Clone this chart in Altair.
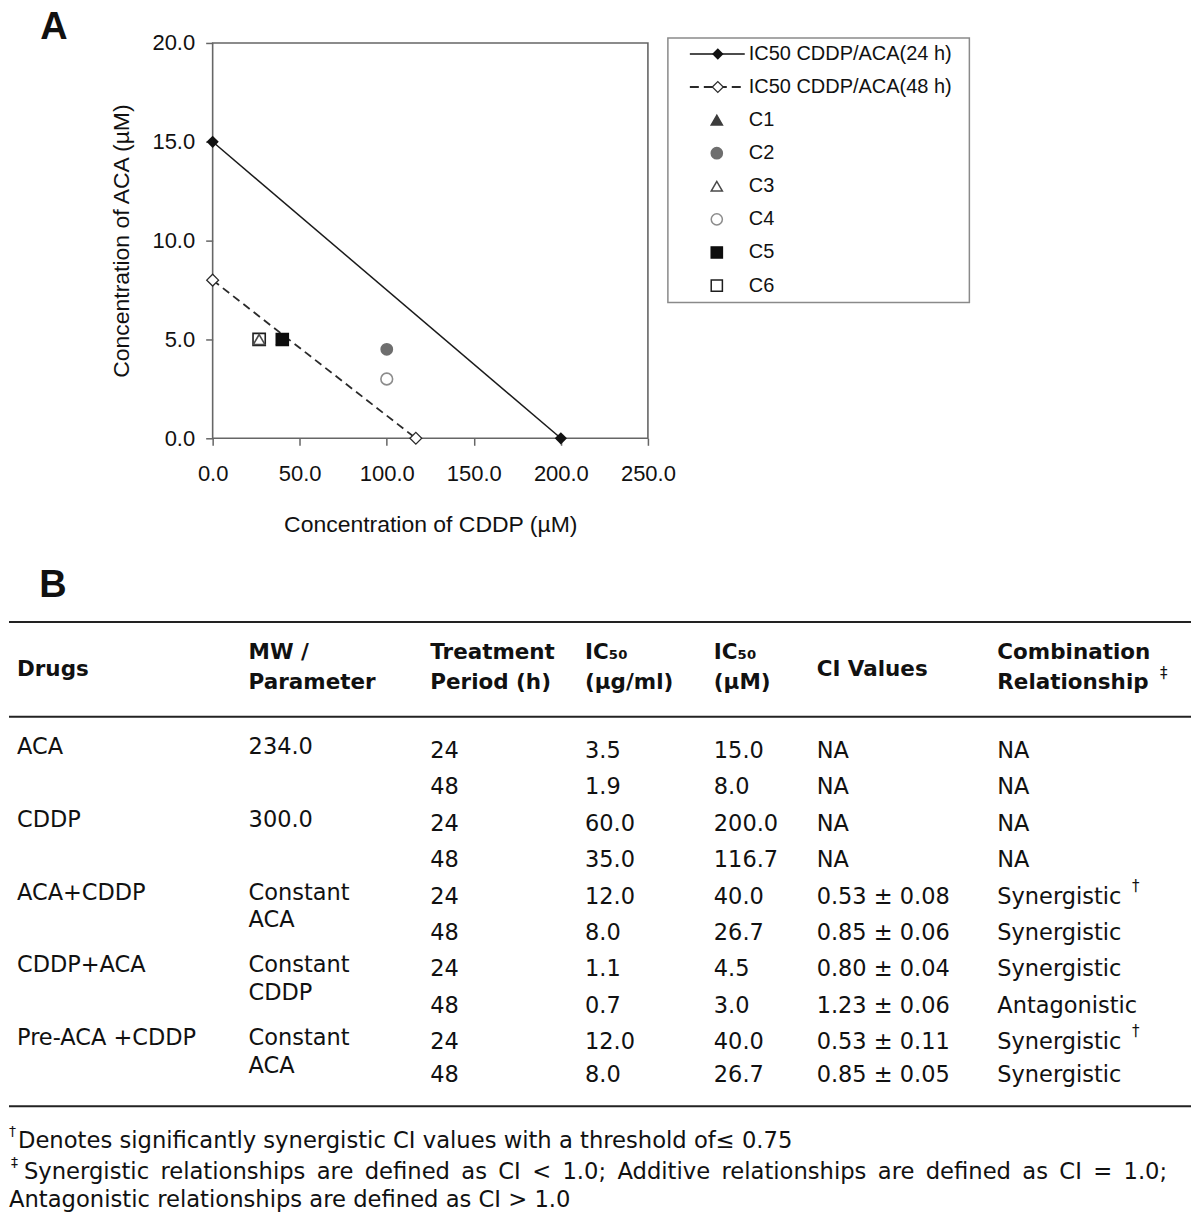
import altair as alt
import pandas as pd

# ---------------- Panel A values ----------------
ic50_24h_cddp = [0.0, 200.0]
ic50_24h_aca = [15.0, 0.0]
ic50_48h_cddp = [0.0, 116.7]
ic50_48h_aca = [8.0, 0.0]

combo_labels = ["C1", "C2", "C3", "C4", "C5", "C6"]
combo_cddp = [40.0, 100.0, 26.7, 100.0, 40.0, 26.7]
combo_aca = [5.0, 4.5, 5.0, 3.0, 5.0, 5.0]
combo_draw_order = ["C1", "C5", "C2", "C4", "C6", "C3"]

x_domain = [0, 250]
y_domain = [0, 20]
x_ticks = [0, 50, 100, 150, 200, 250]
y_ticks = [0, 5, 10, 15, 20]
x_title = "Concentration of CDDP (µM)"
y_title = "Concentration of ACA (µM)"

legend_labels = ["IC50 CDDP/ACA(24 h)", "IC50 CDDP/ACA(48 h)",
                 "C1", "C2", "C3", "C4", "C5", "C6"]

# ---------------- Panel B values ----------------
header_top = ["Drugs", "MW /", "Treatment", "IC₅₀", "IC₅₀", "CI Values", "Combination"]
header_bottom = ["", "Parameter", "Period (h)", "(µg/ml)", "(µM)", "", "Relationship"]

drug_rows = [0, 2, 4, 6, 8]
drug_names = ["ACA", "CDDP", "ACA+CDDP", "CDDP+ACA", "Pre-ACA +CDDP"]
drug_param = ["234.0", "300.0", "Constant\nACA", "Constant\nCDDP", "Constant\nACA"]

period_h = [24, 48, 24, 48, 24, 48, 24, 48, 24, 48]
ic50_ug_ml = [3.5, 1.9, 60.0, 35.0, 12.0, 8.0, 1.1, 0.7, 12.0, 8.0]
ic50_um = [15.0, 8.0, 200.0, 116.7, 40.0, 26.7, 4.5, 3.0, 40.0, 26.7]
ci_mean = [None, None, None, None, 0.53, 0.85, 0.80, 1.23, 0.53, 0.85]
ci_sd = [None, None, None, None, 0.08, 0.06, 0.04, 0.06, 0.11, 0.05]
relationship = ["NA", "NA", "NA", "NA", "Synergistic", "Synergistic",
                "Synergistic", "Antagonistic", "Synergistic", "Synergistic"]
significant = [False, False, False, False, True, False, False, False, True, False]

footnote_1 = "Denotes significantly synergistic CI values with a threshold of\u2264 0.75"
footnote_2 = ("Synergistic relationships are defined as CI < 1.0; "
              "Additive relationships are defined as CI = 1.0;")
footnote_3 = "Antagonistic relationships are defined as CI > 1.0"

# ---------------- Layout / style ----------------
W, H = 1184, 1199
PF = "Liberation Sans, Arial, sans-serif"
TF = "DejaVu Sans, sans-serif"
INK = "#111111"
GREY = "#666666"

combo_shapes = ["triangle-up", "circle", "triangle-up", "circle", "square", "square"]
combo_fill = ["#3c3c3c", "#6e6e6e", "#ffffff", "#ffffff", "#0d0d0d", "#ffffff"]
combo_stroke = ["#3c3c3c", "#6e6e6e", "#4a4a4a", "#8c8c8c", "#0d0d0d", "#1e1e1e"]
combo_size = [120, 150, 80, 150, 200, 190]

x_scale = alt.Scale(domain=x_domain, range=[204, 640], nice=False, zero=False)
y_scale = alt.Scale(domain=y_domain, range=[430, 34], nice=False, zero=False)

x_axis = alt.Axis(title=x_title, orient="bottom", offset=430 - H, values=x_ticks,
                  format=".1f", grid=False, domain=False, tickSize=7, tickWidth=1.5,
                  tickColor=GREY, labelFont=PF, labelFontSize=22, labelColor=INK,
                  labelPadding=18, labelFlush=False, labelOverlap=False,
                  titleFont=PF, titleFontSize=23, titleFontWeight="normal",
                  titleColor=INK, titlePadding=29)
y_axis = alt.Axis(title=y_title, orient="left", offset=-204, values=y_ticks,
                  format=".1f", grid=False, domain=False, tickSize=7, tickWidth=1.5,
                  tickColor=GREY, labelFont=PF, labelFontSize=22, labelColor=INK,
                  labelPadding=11, labelFlush=False, labelOverlap=False,
                  titleFont=PF, titleFontSize=23, titleFontWeight="normal",
                  titleColor=INK, titlePadding=18)


def px(field="cddp"):
    return alt.X(f"{field}:Q", scale=x_scale, axis=x_axis)


def py(field="aca"):
    return alt.Y(f"{field}:Q", scale=y_scale, axis=y_axis)


shape_enc = alt.Shape("label:N", scale=alt.Scale(domain=combo_labels, range=combo_shapes), legend=None)
fill_enc = alt.Fill("label:N", scale=alt.Scale(domain=combo_labels, range=combo_fill), legend=None)
stroke_enc = alt.Stroke("label:N", scale=alt.Scale(domain=combo_labels, range=combo_stroke), legend=None)

# ---- plot area ----
box_df = pd.DataFrame({"cddp": [x_domain[0]], "cddp_end": [x_domain[1]],
                       "aca": [y_domain[0]], "aca_end": [y_domain[1]]})
box = alt.Chart(box_df).mark_rect(fillOpacity=0, stroke=GREY, strokeWidth=1.6).encode(
    x=px(), x2=alt.X2("cddp_end:Q"), y=py(), y2=alt.Y2("aca_end:Q"))

df24 = pd.DataFrame({"cddp": ic50_24h_cddp, "aca": ic50_24h_aca})
df48 = pd.DataFrame({"cddp": ic50_48h_cddp, "aca": ic50_48h_aca})
line24 = alt.Chart(df24).mark_line(color="#1a1a1a", strokeWidth=1.5).encode(x=px(), y=py())
pts24 = alt.Chart(df24).mark_point(shape="diamond", filled=True, color=INK, size=150,
                                   opacity=1).encode(x=px(), y=py())
line48 = alt.Chart(df48).mark_line(color="#2a2a2a", strokeWidth=1.8,
                                   strokeDash=[8, 5]).encode(x=px(), y=py())
pts48 = alt.Chart(df48).mark_point(shape="diamond", fill="white", stroke="#2a2a2a",
                                   strokeWidth=1.3, size=140, opacity=1).encode(x=px(), y=py())

combo_df = pd.DataFrame({"label": combo_labels, "cddp": combo_cddp, "aca": combo_aca})
combo_df = combo_df.set_index("label").loc[combo_draw_order].reset_index()
combos = alt.Chart(combo_df).mark_point(opacity=1, strokeWidth=1.6).encode(
    x=px(), y=py(), shape=shape_enc, fill=fill_enc, stroke=stroke_enc,
    size=alt.Size("label:O", scale=alt.Scale(domain=combo_labels, range=combo_size), legend=None))

plot = alt.layer(box, line48, line24, pts48, pts24, combos)

# ---- legend ----
legend_y = alt.Scale(domain=[0, 7], range=[45, 277], nice=False, zero=False)
legend_df = pd.DataFrame({"row": list(range(len(legend_labels))), "text": legend_labels,
                          "label": ["L24", "L48"] + combo_labels})
one = pd.DataFrame({"k": [0]})
leg_box = alt.Chart(one).mark_rect(fillOpacity=0, stroke="#8a8a8a", strokeWidth=1.5).encode(
    x=alt.value(660), x2=alt.value(962), y=alt.value(29), y2=alt.value(294))
ly = alt.Y("row:Q", scale=legend_y, axis=None)
leg_l24 = alt.Chart(legend_df.iloc[[0]]).mark_rule(color=INK, strokeWidth=1.6).encode(
    x=alt.value(682), x2=alt.value(737), y=ly)
leg_l48 = alt.Chart(legend_df.iloc[[1]]).mark_rule(color="#2a2a2a", strokeWidth=2,
                                                   strokeDash=[9, 5]).encode(
    x=alt.value(682), x2=alt.value(737), y=ly)
leg_d24 = alt.Chart(legend_df.iloc[[0]]).mark_point(shape="diamond", filled=True, color=INK,
                                                    size=130, opacity=1).encode(x=alt.value(710), y=ly)
leg_d48 = alt.Chart(legend_df.iloc[[1]]).mark_point(shape="diamond", fill="white", stroke="#2a2a2a",
                                                    strokeWidth=1.2, size=120, opacity=1).encode(
    x=alt.value(710), y=ly)
leg_pts = alt.Chart(legend_df.iloc[2:]).mark_point(opacity=1, strokeWidth=1.5, size=125).encode(
    x=alt.value(709), y=ly, shape=shape_enc, fill=fill_enc, stroke=stroke_enc)
leg_txt = alt.Chart(legend_df).mark_text(align="left", baseline="middle", font=PF, fontSize=20,
                                         color=INK).encode(x=alt.value(741), y=ly, text="text:N")

# ---- panel letters ----
letters = alt.Chart(pd.DataFrame({"t": ["A"]})).mark_text(
    font=PF, fontSize=38, fontWeight="bold", color=INK, align="center",
    baseline="top").encode(x=alt.value(45), y=alt.value(0), text="t:N")
letter_b = alt.Chart(pd.DataFrame({"t": ["B"]})).mark_text(
    font=PF, fontSize=38, fontWeight="bold", color=INK, align="center",
    baseline="alphabetic").encode(x=alt.value(44), y=alt.value(589), text="t:N")

# ---- table ----
col_x = [8, 240, 422, 577, 706, 809, 990]
col_scale = alt.Scale(domain=list(range(7)), range=col_x, nice=False, zero=False)
row_scale = alt.Scale(domain=[0, 8, 9], range=[743, 1035, 1068], nice=False, zero=False)
tx = alt.X("col:Q", scale=col_scale, axis=None)
ty = alt.Y("row:Q", scale=row_scale, axis=None)

cells = []
for r in range(10):
    cells.append({"row": r, "col": 2, "text": str(period_h[r])})
    cells.append({"row": r, "col": 3, "text": f"{ic50_ug_ml[r]:.1f}"})
    cells.append({"row": r, "col": 4, "text": f"{ic50_um[r]:.1f}"})
    ci_txt = "NA" if ci_mean[r] is None else f"{ci_mean[r]:.2f} ± {ci_sd[r]:.2f}"
    cells.append({"row": r, "col": 5, "text": ci_txt})
    cells.append({"row": r, "col": 6, "text": relationship[r]})
cells_df = pd.DataFrame(cells)

first_lines, second_lines = [], []
for r, name, param in zip(drug_rows, drug_names, drug_param):
    first_lines.append({"row": r, "col": 0, "text": name})
    parts = param.split("\n")
    first_lines.append({"row": r, "col": 1, "text": parts[0]})
    if len(parts) > 1:
        second_lines.append({"row": r, "col": 1, "text": parts[1]})
first_df = pd.DataFrame(first_lines)
second_df = pd.DataFrame(second_lines)

body_kw = dict(align="left", baseline="middle", font=TF, fontSize=22.5, color=INK)
t_cells = alt.Chart(cells_df).mark_text(**body_kw).encode(x=tx, y=ty, text="text:N")
t_first = alt.Chart(first_df).mark_text(dy=-4, **body_kw).encode(x=tx, y=ty, text="text:N")
t_second = alt.Chart(second_df).mark_text(dy=24, **body_kw).encode(x=tx, y=ty, text="text:N")

sig_df = pd.DataFrame({"row": [r for r in range(10) if significant[r]], "text": "†"})
t_sig = alt.Chart(sig_df).mark_text(align="left", baseline="middle", font=TF, fontSize=15,
                                    color=INK, dy=-11).encode(x=alt.value(1125), y=ty, text="text:N")

hdr_single = pd.DataFrame([{"col": i, "text": header_top[i]} for i in range(7) if not header_bottom[i]])
hdr_top = pd.DataFrame([{"col": i, "text": header_top[i]} for i in range(7) if header_bottom[i]])
hdr_bot = pd.DataFrame([{"col": i, "text": header_bottom[i]} for i in range(7) if header_bottom[i]])
hdr_kw = dict(align="left", baseline="middle", font=TF, fontSize=21.5, fontWeight="bold", color=INK)
h_single = alt.Chart(hdr_single).mark_text(**hdr_kw).encode(x=tx, y=alt.value(662), text="text:N")
h_top = alt.Chart(hdr_top).mark_text(**hdr_kw).encode(x=tx, y=alt.value(645), text="text:N")
h_bot = alt.Chart(hdr_bot).mark_text(**hdr_kw).encode(x=tx, y=alt.value(675), text="text:N")
h_dag = alt.Chart(pd.DataFrame({"t": ["‡"]})).mark_text(
    align="left", baseline="middle", font=TF, fontSize=15, color=INK).encode(
    x=alt.value(1153), y=alt.value(665), text="t:N")


def hrule(ypix, width=2):
    return alt.Chart(one).mark_rule(color="#222222", strokeWidth=width).encode(
        x=alt.value(0), x2=alt.value(W), y=alt.value(ypix))


rules = [hrule(614), hrule(709), hrule(1099)]

# footnote 2 is fully justified in the original: widen its word gaps
footnote_2_just = footnote_2.replace(" ", "\u2002")

fn_kw = dict(align="left", baseline="middle", font=TF, fontSize=22.7, color=INK)
fn1 = alt.Chart(pd.DataFrame({"t": [footnote_1]})).mark_text(**fn_kw).encode(
    x=alt.value(9), y=alt.value(1134), text="t:N")
fn2 = alt.Chart(pd.DataFrame({"t": [footnote_2_just]})).mark_text(**fn_kw).encode(
    x=alt.value(15), y=alt.value(1165), text="t:N")
fn3 = alt.Chart(pd.DataFrame({"t": [footnote_3]})).mark_text(**fn_kw).encode(
    x=alt.value(0), y=alt.value(1193), text="t:N")
fm1 = alt.Chart(pd.DataFrame({"t": ["†"]})).mark_text(
    align="left", baseline="middle", font=TF, fontSize=14, color=INK).encode(
    x=alt.value(0), y=alt.value(1125), text="t:N")
fm2 = alt.Chart(pd.DataFrame({"t": ["‡"]})).mark_text(
    align="left", baseline="middle", font=TF, fontSize=14, color=INK).encode(
    x=alt.value(2), y=alt.value(1156), text="t:N")

chart = alt.layer(
    plot, leg_box, leg_l24, leg_l48, leg_d24, leg_d48, leg_pts, leg_txt,
    letters, letter_b,
    *rules, h_single, h_top, h_bot, h_dag, t_cells, t_first, t_second, t_sig,
    fn1, fn2, fn3, fm1, fm2,
).resolve_scale(x="independent", y="independent").properties(
    width=W, height=H, padding=0
).configure_view(strokeWidth=0)

chart.save("out.html", embed_options={"renderer": "svg", "actions": False})
